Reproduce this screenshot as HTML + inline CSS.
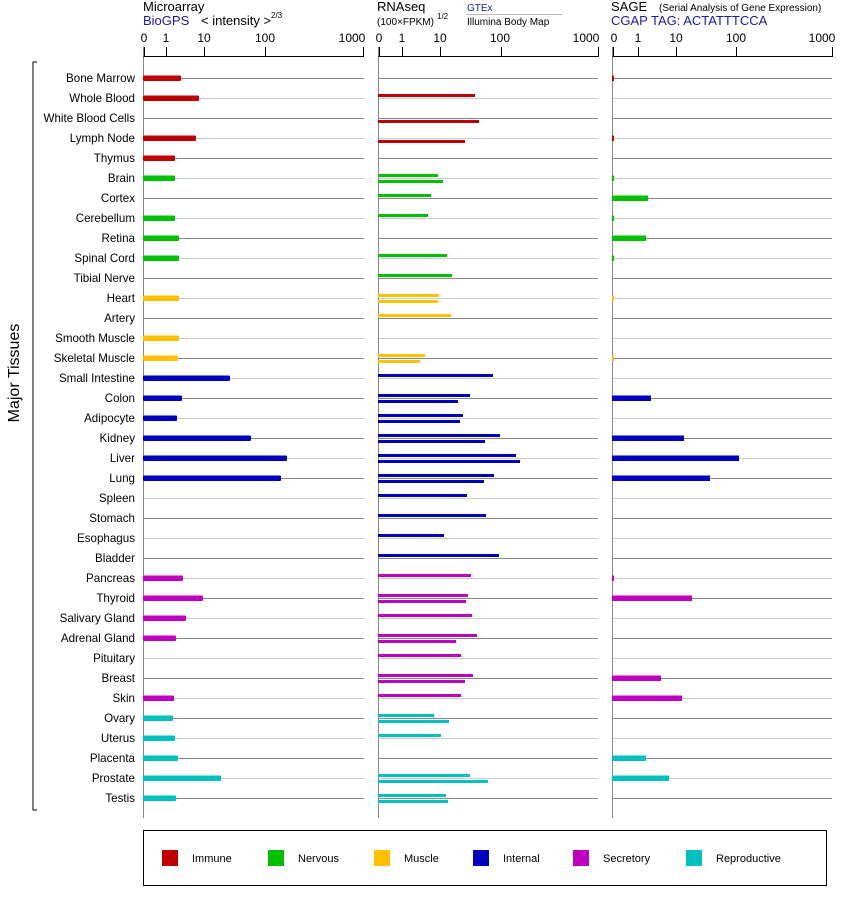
<!DOCTYPE html>
<html><head><meta charset="utf-8"><style>
body{margin:0;background:#fff;}
svg{display:block;font-family:"Liberation Sans",Arial,sans-serif;}
.l{font-size:11.6px;text-anchor:end;fill:#000}
</style></head><body>
<svg id="s" width="842" height="900" xmlns="http://www.w3.org/2000/svg">
<g id="grid"></g>
<text x="143" y="11" font-size="13">Microarray</text>
<text x="143" y="25" font-size="13" fill="#1a1aa6">BioGPS</text>
<text x="201" y="25" font-size="13">&lt; intensity &gt;</text>
<text x="271" y="18" font-size="8">2/3</text>
<text x="377" y="11" font-size="13">RNAseq</text>
<text x="377" y="25" font-size="10">(100×FPKM)</text>
<text x="437" y="19" font-size="8">1/2</text>
<text x="467" y="11" font-size="10" fill="#1a1aa6">GTEx</text>
<line x1="467" y1="14.5" x2="562" y2="14.5" stroke="#bbb"/>
<text x="467" y="25" font-size="10">Illumina Body Map</text>
<text x="611" y="11" font-size="13">SAGE</text>
<text x="659" y="11" font-size="10">(Serial Analysis of Gene Expression)</text>
<text x="611" y="25" font-size="13" fill="#1a1aa6">CGAP TAG: ACTATTTCCA</text>
<g font-size="12" text-anchor="middle">
<text x="144" y="42">0</text><text x="166" y="42">1</text><text x="204" y="42">10</text><text x="265" y="42">100</text><text x="352" y="42">1000</text>
<text x="379" y="42">0</text><text x="402" y="42">1</text><text x="440" y="42">10</text><text x="500" y="42">100</text><text x="586" y="42">1000</text>
<text x="614" y="42">0</text><text x="638" y="42">1</text><text x="676" y="42">10</text><text x="736" y="42">100</text><text x="822" y="42">1000</text>
</g>
<g class="l">
<text x="135" y="82">Bone Marrow</text><text x="135" y="102">Whole Blood</text><text x="135" y="122">White Blood Cells</text><text x="135" y="142">Lymph Node</text><text x="135" y="162">Thymus</text><text x="135" y="182">Brain</text><text x="135" y="202">Cortex</text><text x="135" y="222">Cerebellum</text><text x="135" y="242">Retina</text><text x="135" y="262">Spinal Cord</text><text x="135" y="282">Tibial Nerve</text><text x="135" y="302">Heart</text><text x="135" y="322">Artery</text><text x="135" y="342">Smooth Muscle</text><text x="135" y="362">Skeletal Muscle</text><text x="135" y="382">Small Intestine</text><text x="135" y="402">Colon</text><text x="135" y="422">Adipocyte</text><text x="135" y="442">Kidney</text><text x="135" y="462">Liver</text><text x="135" y="482">Lung</text><text x="135" y="502">Spleen</text><text x="135" y="522">Stomach</text><text x="135" y="542">Esophagus</text><text x="135" y="562">Bladder</text><text x="135" y="582">Pancreas</text><text x="135" y="602">Thyroid</text><text x="135" y="622">Salivary Gland</text><text x="135" y="642">Adrenal Gland</text><text x="135" y="662">Pituitary</text><text x="135" y="682">Breast</text><text x="135" y="702">Skin</text><text x="135" y="722">Ovary</text><text x="135" y="742">Uterus</text><text x="135" y="762">Placenta</text><text x="135" y="782">Prostate</text><text x="135" y="802">Testis</text>
</g>
<text transform="translate(19,373) rotate(-90)" font-size="16" text-anchor="middle">Major Tissues</text>
<path d="M37,62 H33 V810 H37" fill="none" stroke="#000"/>
<rect x="143.5" y="830.5" width="683" height="55" fill="none" stroke="#000"/>
<g font-size="11">
<rect x="162" y="850" width="16" height="16" fill="#c00000"/><text x="192" y="862">Immune</text>
<rect x="268" y="850" width="16" height="16" fill="#00c000"/><text x="298" y="862">Nervous</text>
<rect x="374" y="850" width="16" height="16" fill="#ffc000"/><text x="404" y="862">Muscle</text>
<rect x="473" y="850" width="16" height="16" fill="#0000c0"/><text x="503" y="862">Internal</text>
<rect x="573" y="850" width="16" height="16" fill="#c000c0"/><text x="603" y="862">Secretory</text>
<rect x="686" y="850" width="16" height="16" fill="#00c0c0"/><text x="716" y="862">Reproductive</text>
</g>
<g id="bars"></g>
</svg>
<script>
var NS="http://www.w3.org/2000/svg";
function el(p,t,a){var e=document.createElementNS(NS,t);for(var k in a)e.setAttribute(k,a[k]);p.appendChild(e);return e;}
var g=document.getElementById("grid"),b=document.getElementById("bars");
var panels=[[143.5,364,[143.5,166,204,265,363]],[378.5,598,[378.5,402,440,500.5,598]],[612.5,832,[612.5,637.5,676,736,832]]];
panels.forEach(function(p){
 for(var i=0;i<37;i++){var y=78+i*20+0.5;el(g,"line",{x1:p[0],x2:p[1],y1:y,y2:y,stroke:i%2?"#ccc":"#888"});}
 el(g,"line",{x1:p[0],x2:p[0],y1:47,y2:818,stroke:"#888"});
 el(g,"line",{x1:p[0],x2:p[1],y1:56.5,y2:56.5,stroke:"#000"});
 p[2].forEach(function(x){el(g,"line",{x1:Math.round(x)+0.5,x2:Math.round(x)+0.5,y1:47,y2:57,stroke:"#000"});});
});
var C={I:"#c00000",N:"#00c000",M:"#ffc000",T:"#0000c0",S:"#c000c0",R:"#00c0c0"};
var D=[["I",181,0,0,614],["I",199,475,0,0],["I",0,0,479,0],["I",196,0,465,614],["I",175,0,0,0],
["N",175,438,443,614],["N",0,431,0,648],["N",175,428,0,614],["N",179,0,0,646],["N",179,447,0,614],["N",0,452,0,0],
["M",179,439,438,614],["M",0,451,0,0],["M",179,0,0,0],["M",178,425,420,614],
["T",230,493,0,0],["T",182,470,458,651],["T",177,463,460,0],["T",251,500,485,684],["T",287,516,520,739],["T",281,494,484,710],["T",0,467,0,0],["T",0,486,0,0],["T",0,444,0,0],["T",0,499,0,0],
["S",183,471,0,614],["S",203,468,466,692],["S",186,472,0,0],["S",176,477,456,0],["S",0,461,0,0],["S",0,473,465,661],["S",174,461,0,682],
["R",173,434,449,0],["R",175,441,0,0],["R",178,0,0,646],["R",221,470,488,669],["R",176,446,448,0]];
D.forEach(function(d,i){var y=78+i*20,c=C[d[0]];
 if(d[1])el(b,"rect",{x:143,y:y-2.5,width:d[1]-143,height:5.5,fill:c,rx:1});
 if(d[2])el(b,"rect",{x:378,y:y-4,width:d[2]-378,height:3,fill:c});
 if(d[3])el(b,"rect",{x:378,y:y+2,width:d[3]-378,height:3,fill:c});
 if(d[4])el(b,"rect",{x:612,y:y-2.5,width:Math.max(2,d[4]-612),height:5.5,fill:c});
});
</script>
</body></html>
